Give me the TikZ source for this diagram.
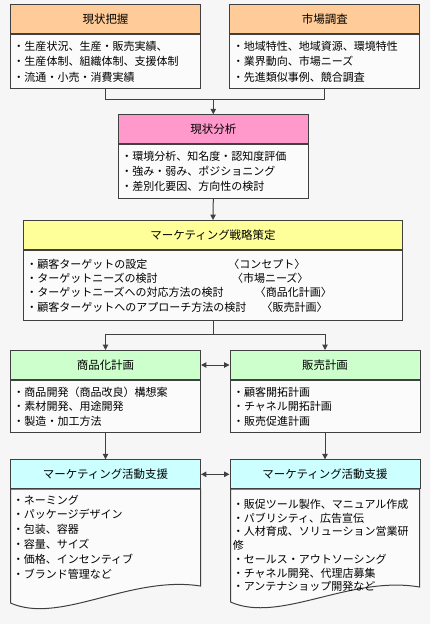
\documentclass[tikz,border=0pt]{standalone}
\usepackage{fontspec}
\newfontfamily\jp{Noto Sans CJK JP}
\usetikzlibrary{arrows.meta}
\definecolor{lc}{HTML}{404040}
\definecolor{bg}{HTML}{F6F6F6}
\definecolor{bodyc}{HTML}{FBFBFB}
\definecolor{orangec}{HTML}{FFCC99}
\definecolor{pinkc}{HTML}{FF99CC}
\definecolor{yellowc}{HTML}{FFFF99}
\definecolor{greenc}{HTML}{CCFFCC}
\definecolor{cyanc}{HTML}{CCFFFF}
\tikzstyle{hd}=[draw=lc,line width=.75pt,anchor=north,minimum height=21.75pt,inner sep=0pt,font=\jp\fontsize{8.6pt}{10pt}\selectfont]
\tikzstyle{bd}=[draw=lc,line width=.75pt,fill=bodyc,anchor=north,inner xsep=2.25pt,inner ysep=0pt,align=left,font=\jp\fontsize{8.25pt}{11pt}\selectfont]
\tikzstyle{hw}=[minimum width=142.5pt]
\tikzstyle{bw}=[text width=138pt]
\tikzstyle{tx}=[anchor=north west,inner sep=0pt,align=left,font=\jp\fontsize{8.25pt}{11.1pt}\selectfont]
\tikzstyle{ln}=[draw=lc,line width=.75pt]
\tikzstyle{ar}=[ln,-{Triangle[length=4pt,width=4pt]}]
\tikzstyle{dar}=[ln,{Triangle[length=4pt,width=4pt]}-{Triangle[length=4pt,width=4pt]}]

\begin{document}
\begin{tikzpicture}[x=0.75pt,y=-0.75pt]
\useasboundingbox (0,0) rectangle (430,624);
\fill[bg] (0,0) rectangle (430,624);

\node[hd,hw,fill=orangec] (h1) at (105.5,4) {現状把握};
\node[bd,bw,minimum height=40.5pt,font=\jp\fontsize{8.25pt}{11.7pt}\selectfont] (b1) at (h1.south) {・生産状況、生産・販売実績、\\・生産体制、組織体制、支援体制\\・流通・小売・消費実績};
\node[hd,hw,fill=orangec] (h2) at (324.8,4) {市場調査};
\node[bd,bw,minimum height=40.5pt,font=\jp\fontsize{8.25pt}{11.7pt}\selectfont] (b2) at (h2.south) {・地域特性、地域資源、環境特性\\・業界動向、市場ニーズ\\・先進類似事例、競合調査};

\node[hd,hw,fill=pinkc] (h3) at (213.3,114.3) {現状分析};
\node[bd,bw,minimum height=40pt] (b3) at (h3.south) {・環境分析、知名度・認知度評価\\・強み・弱み、ポジショニング\\・差別化要因、方向性の検討};

\node[hd,minimum width=284.6pt,fill=yellowc] (h4) at (213,220) {マーケティング戦略策定};
\node[bd,text width=280.1pt,minimum height=52.5pt,font=\jp\fontsize{8.25pt}{10.7pt}\selectfont] (b4) at (h4.south) {%
\makebox[151.5pt][l]{・顧客ターゲットの設定}〈コンセプト〉\\
\makebox[154.3pt][l]{・ターゲットニーズの検討}〈市場ニーズ〉\\
\makebox[171.5pt][l]{・ターゲットニーズへの対応方法の検討}〈商品化計画〉\\
\makebox[176.5pt][l]{・顧客ターゲットへのアプローチ方法の検討}〈販売計画〉};

\node[hd,hw,fill=greenc] (h5) at (105.5,350) {商品化計画};
\node[bd,bw,minimum height=39pt] (b5) at (h5.south) {・商品開発（商品改良）構想案\\・素材開発、用途開発\\・製造・加工方法};
\node[hd,hw,fill=greenc] (h6) at (325,350) {販売計画};
\node[bd,bw,minimum height=39pt] (b6) at (h6.south) {・顧客開拓計画\\・チャネル開拓計画\\・販売促進計画};

\draw[ln,fill=bodyc] (10.5,489) -- (10.5,603) .. controls (60,625) and (130,575) .. (200.5,586) -- (200.5,489) -- cycle;
\draw[ln,fill=bodyc] (230.5,489) -- (230.5,602) .. controls (280,624) and (350,575) .. (419.5,587) -- (419.5,489) -- cycle;
\node[hd,hw,fill=cyanc] (h7) at (105.5,459.3) {マーケティング活動支援};
\node[tx] (t7) at (12.5,494.5) {・ネーミング\\・パッケージデザイン\\・包装、容器\\・容量、サイズ\\・価格、インセンティブ\\・ブランド管理など};
\node[hd,hw,fill=cyanc] (h8) at (325,459.3) {マーケティング活動支援};
\node[tx,font=\jp\fontsize{8.25pt}{10.3pt}\selectfont] (t8) at (232.5,499) {・販促ツール製作、マニュアル作成\\・パブリシティ、広告宣伝\\・人材育成、ソリューション営業研\\修\\・セールス・アウトソーシング\\・チャネル開発、代理店募集\\・アンテナショップ開発など};

\coordinate (m1) at (213.3,100);
\coordinate (m2) at (213,334.3);
\draw[ln] (b1.south) |- (m1);
\draw[ln] (b2.south) |- (m1);
\draw[ar] (m1) -- (h3.north);
\draw[ar] (b3.south) -- (h4.north);
\draw[ln] (b4.south) -- (m2);
\draw[ar] (m2) -| (h5.north);
\draw[ar] (m2) -| (h6.north);
\draw[dar] (h5.east) -- (h6.west);
\draw[ar] (b5.south) -- (h7.north);
\draw[ar] (b6.south) -- (h8.north);
\draw[dar] (h7.east) -- (h8.west);
\end{tikzpicture}
\end{document}
